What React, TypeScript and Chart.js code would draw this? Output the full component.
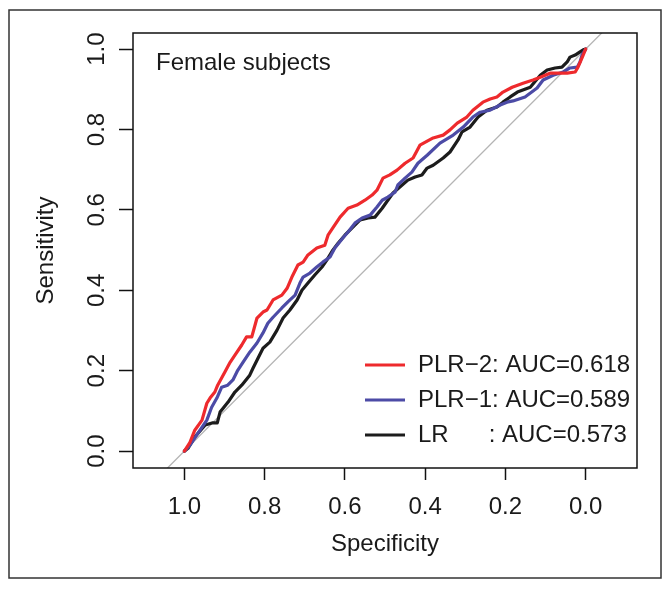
import { useEffect, useRef } from 'react';
import { Chart, registerables } from 'chart.js';

Chart.register(...registerables);

const xTicks = [1.0, 0.8, 0.6, 0.4, 0.2, 0.0];
const yTicks = [0.0, 0.2, 0.4, 0.6, 0.8, 1.0];
const xRange = [-0.128, 1.128];
const yRange = [-0.042, 1.04];

const panelLabel = 'Female subjects';
const xTitle = 'Specificity';
const yTitle = 'Sensitivity';
const seriesNames = ['PLR\u22122: AUC=0.618', 'PLR\u22121: AUC=0.589', 'LR      : AUC=0.573'];
const seriesColors = ['#ee2a2d', '#4c4ba6', '#1c1c1c'];

// PLR-2 (red)
const specPLR2 = [1.0, 0.986, 0.974, 0.956, 0.944, 0.936, 0.924, 0.917, 0.899, 0.886, 0.874, 0.857, 0.845, 0.832, 0.819, 0.804, 0.794, 0.779, 0.757, 0.744, 0.732, 0.717, 0.704, 0.692, 0.670, 0.650, 0.642, 0.630, 0.612, 0.592, 0.570, 0.550, 0.532, 0.520, 0.505, 0.488, 0.470, 0.450, 0.430, 0.413, 0.380, 0.355, 0.338, 0.320, 0.296, 0.281, 0.256, 0.238, 0.221, 0.206, 0.183, 0.156, 0.131, 0.113, 0.089, 0.046, 0.026, 0.019, 0.009, 0.0];
const sensPLR2 = [0.0, 0.022, 0.052, 0.077, 0.119, 0.132, 0.147, 0.164, 0.197, 0.221, 0.239, 0.264, 0.284, 0.284, 0.331, 0.346, 0.351, 0.376, 0.388, 0.405, 0.433, 0.463, 0.470, 0.488, 0.505, 0.512, 0.537, 0.555, 0.582, 0.604, 0.612, 0.624, 0.637, 0.649, 0.679, 0.687, 0.699, 0.716, 0.729, 0.761, 0.779, 0.786, 0.799, 0.816, 0.831, 0.848, 0.868, 0.876, 0.881, 0.893, 0.905, 0.915, 0.923, 0.930, 0.940, 0.940, 0.943, 0.955, 0.978, 1.0];

// PLR-1 (blue)
const specPLR1 = [1.0, 0.986, 0.966, 0.944, 0.932, 0.919, 0.907, 0.892, 0.879, 0.867, 0.854, 0.837, 0.819, 0.804, 0.792, 0.779, 0.757, 0.742, 0.724, 0.712, 0.704, 0.687, 0.670, 0.655, 0.637, 0.625, 0.605, 0.592, 0.575, 0.557, 0.537, 0.520, 0.507, 0.493, 0.475, 0.468, 0.450, 0.433, 0.418, 0.395, 0.363, 0.330, 0.305, 0.281, 0.263, 0.238, 0.213, 0.196, 0.181, 0.151, 0.121, 0.106, 0.081, 0.056, 0.039, 0.021, 0.014, 0.009, 0.0];
const sensPLR1 = [0.0, 0.015, 0.045, 0.077, 0.109, 0.132, 0.159, 0.164, 0.177, 0.201, 0.221, 0.246, 0.269, 0.294, 0.318, 0.333, 0.356, 0.371, 0.388, 0.418, 0.433, 0.443, 0.458, 0.470, 0.483, 0.505, 0.530, 0.545, 0.567, 0.580, 0.587, 0.607, 0.624, 0.632, 0.644, 0.662, 0.679, 0.694, 0.716, 0.736, 0.766, 0.786, 0.806, 0.831, 0.843, 0.848, 0.861, 0.868, 0.871, 0.881, 0.903, 0.923, 0.935, 0.943, 0.953, 0.955, 0.968, 0.985, 1.0];

// LR (black)
const specLR = [1.0, 0.991, 0.974, 0.948, 0.931, 0.918, 0.911, 0.891, 0.874, 0.857, 0.837, 0.829, 0.819, 0.804, 0.787, 0.769, 0.754, 0.737, 0.719, 0.707, 0.692, 0.675, 0.657, 0.645, 0.630, 0.617, 0.600, 0.582, 0.562, 0.542, 0.525, 0.507, 0.493, 0.480, 0.463, 0.443, 0.425, 0.408, 0.395, 0.380, 0.355, 0.338, 0.318, 0.308, 0.288, 0.268, 0.246, 0.221, 0.206, 0.188, 0.170, 0.138, 0.113, 0.096, 0.076, 0.059, 0.046, 0.039, 0.026, 0.014, 0.006, 0.0];
const sensLR = [0.0, 0.007, 0.035, 0.065, 0.070, 0.070, 0.097, 0.122, 0.147, 0.164, 0.189, 0.206, 0.226, 0.256, 0.271, 0.301, 0.331, 0.351, 0.376, 0.400, 0.418, 0.438, 0.458, 0.475, 0.500, 0.517, 0.537, 0.555, 0.575, 0.580, 0.582, 0.604, 0.624, 0.642, 0.657, 0.674, 0.682, 0.687, 0.704, 0.711, 0.729, 0.744, 0.774, 0.794, 0.806, 0.831, 0.848, 0.856, 0.868, 0.881, 0.893, 0.905, 0.935, 0.948, 0.953, 0.955, 0.968, 0.980, 0.985, 0.993, 0.998, 1.0];

const FONT = '"Liberation Sans", Arial, Helvetica, sans-serif';
const TEXT = '#1a1a1a';

const zip = (xs: number[], ys: number[]) => xs.map((x, i) => ({ x, y: ys[i] }));

const decorPlugin = {
  id: 'decor',
  afterDraw(chart: any) {
    const { ctx, chartArea: a, scales } = chart;
    ctx.save();
    // plot box
    ctx.strokeStyle = '#111';
    ctx.lineWidth = 1.5;
    ctx.strokeRect(a.left, a.top, a.right - a.left, a.bottom - a.top);

    ctx.fillStyle = TEXT;
    ctx.font = `24px ${FONT}`;
    // x tick labels
    ctx.textAlign = 'center';
    ctx.textBaseline = 'alphabetic';
    xTicks.forEach((v) => {
      ctx.fillText(v.toFixed(1), scales.x.getPixelForValue(v), 514);
    });
    // y tick labels (rotated)
    yTicks.forEach((v) => {
      const y = scales.y.getPixelForValue(v);
      ctx.save();
      ctx.translate(104, y);
      ctx.rotate(-Math.PI / 2);
      ctx.fillText(v.toFixed(1), 0, 0);
      ctx.restore();
    });
    // axis titles
    ctx.fillText(xTitle, (a.left + a.right) / 2, 551);
    ctx.save();
    ctx.translate(53, (a.top + a.bottom) / 2);
    ctx.rotate(-Math.PI / 2);
    ctx.fillText(yTitle, 0, 0);
    ctx.restore();

    // panel label
    ctx.textAlign = 'left';
    ctx.fillText(panelLabel, 156, 70);

    // legend
    const legendY = [365, 400, 435];
    seriesNames.forEach((name, i) => {
      ctx.strokeStyle = seriesColors[i];
      ctx.lineWidth = 3.2;
      ctx.lineCap = 'butt';
      ctx.beginPath();
      ctx.moveTo(365, legendY[i]);
      ctx.lineTo(405, legendY[i]);
      ctx.stroke();
      ctx.fillStyle = TEXT;
      ctx.textBaseline = 'middle';
      ctx.fillText(name, 418, legendY[i]);
    });

    // outer frame
    ctx.strokeStyle = '#333';
    ctx.lineWidth = 1.5;
    ctx.strokeRect(9, 10, 652, 568);
    ctx.restore();
  },
};

export default function App() {
  const ref = useRef<HTMLCanvasElement>(null);
  useEffect(() => {
    if (!ref.current) return;
    const lineDs = (label: string, data: any[], color: string, order: number) => ({
      label,
      data,
      borderColor: color,
      backgroundColor: color,
      borderWidth: 3.2,
      pointRadius: 0,
      showLine: true,
      tension: 0,
      fill: false,
      borderCapStyle: 'round',
      borderJoinStyle: 'round',
      order,
    });
    const diagonal = [
      { x: 1 - yRange[0], y: yRange[0] },
      { x: 1 - yRange[1], y: yRange[1] },
    ];
    const chart = new Chart(ref.current, {
      type: 'scatter',
      data: {
        datasets: [
          lineDs('PLR-2', zip(specPLR2, sensPLR2), seriesColors[0], 1),
          lineDs('PLR-1', zip(specPLR1, sensPLR1), seriesColors[1], 2),
          lineDs('LR', zip(specLR, sensLR), seriesColors[2], 3),
          { ...lineDs('diag', diagonal, '#b5b5b5', 10), borderWidth: 1.3 },
        ],
      },
      options: {
        animation: false,
        responsive: false,
        devicePixelRatio: 1,
        layout: { padding: { left: 0, top: 33, right: 34, bottom: 0 } },
        plugins: { legend: { display: false }, tooltip: { enabled: false }, title: { display: false } },
        scales: {
          x: {
            type: 'linear',
            reverse: true,
            min: xRange[0],
            max: xRange[1],
            afterBuildTicks: (s: any) => { s.ticks = xTicks.map((v) => ({ value: v })); },
            afterFit: (s: any) => { s.height = 121; },
            ticks: { display: false },
            border: { display: false },
            grid: { drawOnChartArea: false, drawTicks: true, tickLength: 12, tickColor: '#111', tickWidth: 1.5 },
          },
          y: {
            type: 'linear',
            min: yRange[0],
            max: yRange[1],
            afterBuildTicks: (s: any) => { s.ticks = yTicks.map((v) => ({ value: v })); },
            afterFit: (s: any) => { s.width = 133; },
            ticks: { display: false },
            border: { display: false },
            grid: { drawOnChartArea: false, drawTicks: true, tickLength: 14, tickColor: '#111', tickWidth: 1.5 },
          },
        },
      } as any,
      plugins: [decorPlugin],
    });
    return () => chart.destroy();
  }, []);
  return (
    <div style={{ position: 'fixed', left: 0, top: 0, width: 671, height: 589, background: '#fff' }}>
      <canvas ref={ref} width={671} height={589} style={{ width: 671, height: 589 }} />
    </div>
  );
}
